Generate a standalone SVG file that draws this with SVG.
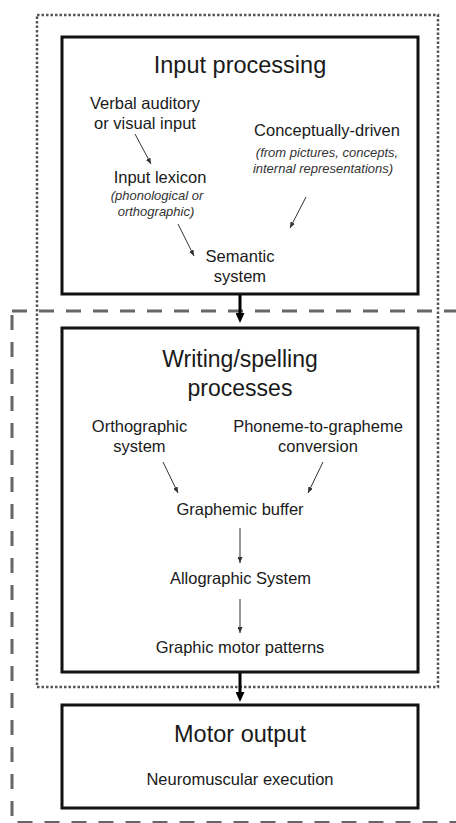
<svg xmlns="http://www.w3.org/2000/svg" width="456" height="823" viewBox="0 0 456 823">
<defs>
<style>
text{font-family:"Liberation Sans",Arial,sans-serif;fill:#1a1a1a;text-anchor:middle}
.title{font-size:23.5px}
.lbl{font-size:16.5px}
.it{font-size:13px;font-style:italic;fill:#333}
.box{fill:#fff;stroke:#111;stroke-width:3}
.thin{stroke:#333;stroke-width:1;fill:none;marker-end:url(#ah)}
.thick{stroke:#000;stroke-width:3;fill:none;marker-end:url(#ahb)}
</style>
<marker id="ah" markerUnits="userSpaceOnUse" markerWidth="6" markerHeight="5" viewBox="0 0 6 5" refX="6" refY="2.5" orient="auto">
<path d="M0,0 L6,2.5 L0,5 z" fill="#333"/>
</marker>
<marker id="ahb" markerUnits="userSpaceOnUse" markerWidth="10" markerHeight="9" viewBox="0 0 10 9" refX="0" refY="4.5" orient="auto">
<path d="M0,0 L10,4.5 L0,9 z" fill="#000"/>
</marker>
</defs>
<rect width="456" height="823" fill="#fff"/>
<g id="containers">
<rect id="dashed-region" x="12" y="311" width="470" height="511.5" fill="none" stroke="#666" stroke-width="3" stroke-dasharray="15 12"/>
<rect id="dotted-region" x="37" y="15" width="401" height="672" fill="none" stroke="#555" stroke-width="2.5" stroke-dasharray="2.5 2"/>
</g>
<g id="input-processing">
<rect class="box" x="62" y="37" width="356" height="257"/>
<text class="title" x="240" y="73">Input processing</text>
<text class="lbl" x="145" y="109">Verbal auditory</text>
<text class="lbl" x="145" y="129">or visual input</text>
<text class="lbl" x="327" y="136">Conceptually-driven</text>
<text class="it" x="327" y="157">(from pictures, concepts,</text>
<text class="it" x="323" y="173">internal representations)</text>
<text class="lbl" x="160" y="183">Input lexicon</text>
<text class="it" x="157" y="199.5">(phonological or</text>
<text class="it" x="156" y="215.5">orthographic)</text>
<text class="lbl" x="240" y="262">Semantic</text>
<text class="lbl" x="240" y="282">system</text>
</g>
<g id="writing-spelling">
<rect class="box" x="62" y="328" width="356" height="344"/>
<text class="title" x="240" y="367" style="font-size:23px">Writing/spelling</text>
<text class="title" x="240" y="396" style="font-size:23px">processes</text>
<text class="lbl" x="139.5" y="432">Orthographic</text>
<text class="lbl" x="139.5" y="452">system</text>
<text class="lbl" x="318" y="432">Phoneme-to-grapheme</text>
<text class="lbl" x="318" y="452">conversion</text>
<text class="lbl" x="240" y="515">Graphemic buffer</text>
<text class="lbl" x="240.5" y="583.5">Allographic System</text>
<text class="lbl" x="240" y="653">Graphic motor patterns</text>
</g>
<g id="motor-output">
<rect class="box" x="62" y="705" width="356" height="103"/>
<text class="title" x="240" y="742">Motor output</text>
<text class="lbl" x="240" y="785">Neuromuscular execution</text>
</g>
<g id="connectors">
<line class="thin" x1="135" y1="134" x2="151" y2="164"/>
<line class="thin" x1="306" y1="197" x2="290" y2="228"/>
<line class="thin" x1="178" y1="224" x2="194" y2="256"/>
<line class="thin" x1="163" y1="462" x2="178" y2="493"/>
<line class="thin" x1="323" y1="462" x2="308" y2="493"/>
<line class="thin" x1="240" y1="528" x2="240" y2="563"/>
<line class="thin" x1="240" y1="599" x2="240" y2="633"/>
<line class="thick" x1="240" y1="295" x2="240" y2="313"/>
<line class="thick" x1="240" y1="673" x2="240" y2="692"/>
</g>
</svg>
